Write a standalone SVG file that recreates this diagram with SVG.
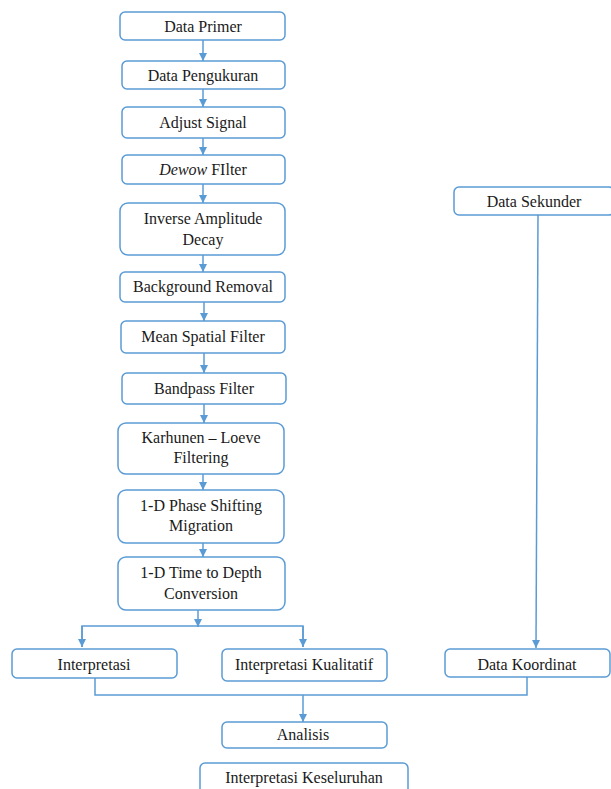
<svg xmlns="http://www.w3.org/2000/svg" width="611" height="789" viewBox="0 0 611 789">
<style>
.b{fill:#fff;stroke:#5B9BD5;stroke-width:1.5}
text{font-family:'Liberation Serif','Times New Roman',Times,serif;font-size:16px;fill:#1a1a1a;text-anchor:middle}
.c{fill:none;stroke:#5B9BD5;stroke-width:1.5}
</style>
<defs>
<marker id="ah" markerUnits="userSpaceOnUse" markerWidth="10" markerHeight="10" refX="8" refY="4" orient="auto">
<path d="M0,0 L8,4 L0,8 Z" fill="#5B9BD5"/>
</marker>
</defs>
<rect width="611" height="789" fill="#fff"/>
<g id="connectors">
<line class="c" x1="203" y1="40" x2="203" y2="61" marker-end="url(#ah)"/>
<line class="c" x1="203" y1="89" x2="203" y2="107" marker-end="url(#ah)"/>
<line class="c" x1="203" y1="138" x2="203" y2="155" marker-end="url(#ah)"/>
<line class="c" x1="203" y1="184" x2="203" y2="203" marker-end="url(#ah)"/>
<line class="c" x1="203" y1="255" x2="203" y2="272" marker-end="url(#ah)"/>
<line class="c" x1="204" y1="302" x2="204" y2="321" marker-end="url(#ah)"/>
<line class="c" x1="204" y1="353" x2="204" y2="373" marker-end="url(#ah)"/>
<line class="c" x1="204" y1="404" x2="204" y2="423" marker-end="url(#ah)"/>
<line class="c" x1="203" y1="474" x2="203" y2="490" marker-end="url(#ah)"/>
<line class="c" x1="203" y1="543" x2="203" y2="557" marker-end="url(#ah)"/>
<line class="c" x1="198" y1="610" x2="198" y2="627" marker-end="url(#ah)"/>
<polyline class="c" points="82,647 82,626 303,626 303,647"/>
<line class="c" x1="82" y1="626" x2="82" y2="647" marker-end="url(#ah)"/>
<line class="c" x1="303" y1="626" x2="303" y2="647" marker-end="url(#ah)"/>
<line class="c" x1="303" y1="663" x2="303" y2="681" marker-end="url(#ah)"/>
<polyline class="c" points="95,678 95,695 527,695 527,677"/>
<line class="c" x1="303" y1="695" x2="303" y2="722" marker-end="url(#ah)"/>
<line class="c" x1="538" y1="215" x2="536" y2="648" marker-end="url(#ah)"/>
</g>
<g id="n1"><rect class="b" x="120" y="12" width="165" height="28" rx="5"/><text x="203" y="32">Data Primer</text></g>
<g id="n2"><rect class="b" x="122" y="61" width="163" height="28" rx="5"/><text x="203" y="81">Data Pengukuran</text></g>
<g id="n3"><rect class="b" x="122" y="107" width="163" height="31" rx="5"/><text x="203" y="128">Adjust Signal</text></g>
<g id="n4"><rect class="b" x="122" y="155" width="163" height="29" rx="5"/><text x="203" y="175"><tspan font-style="italic">Dewow</tspan> FIlter</text></g>
<g id="n5"><rect class="b" x="120" y="203" width="165" height="52" rx="8"/><text x="203" y="224">Inverse Amplitude</text><text x="203" y="245">Decay</text></g>
<g id="n6"><rect class="b" x="120" y="272" width="165" height="30" rx="5"/><text x="203" y="292">Background Removal</text></g>
<g id="n7"><rect class="b" x="121" y="321" width="164" height="32" rx="5"/><text x="203" y="342">Mean Spatial  Filter</text></g>
<g id="n8"><rect class="b" x="122" y="373" width="164" height="31" rx="5"/><text x="204" y="394">Bandpass Filter</text></g>
<g id="n9"><rect class="b" x="118" y="423" width="166" height="51" rx="8"/><text x="201" y="443">Karhunen – Loeve</text><text x="201" y="463">Filtering</text></g>
<g id="n10"><rect class="b" x="118" y="490" width="166" height="53" rx="8"/><text x="201" y="511">1-D Phase Shifting</text><text x="201" y="531">Migration</text></g>
<g id="n11"><rect class="b" x="118" y="557" width="167" height="53" rx="8"/><text x="201" y="578">1-D Time to Depth</text><text x="201" y="599">Conversion</text></g>
<g id="n12"><rect class="b" x="12" y="649" width="165" height="29" rx="5"/><text x="94" y="670">Interpretasi</text></g>
<g id="n13"><rect class="b" x="222" y="649" width="165" height="32" rx="5"/><text x="304" y="670">Interpretasi  Kualitatif</text></g>
<g id="n14"><rect class="b" x="454" y="187" width="160" height="28" rx="5"/><text x="534" y="207">Data Sekunder</text></g>
<g id="n15"><rect class="b" x="445" y="649" width="165" height="28" rx="5"/><text x="527" y="670">Data Koordinat</text></g>
<g id="n16"><rect class="b" x="222" y="722" width="165" height="26" rx="5"/><text x="303" y="740">Analisis</text></g>
<g id="n17"><rect class="b" x="200" y="763" width="208" height="40" rx="5"/><text x="304" y="783">Interpretasi  Keseluruhan</text></g>
</svg>
